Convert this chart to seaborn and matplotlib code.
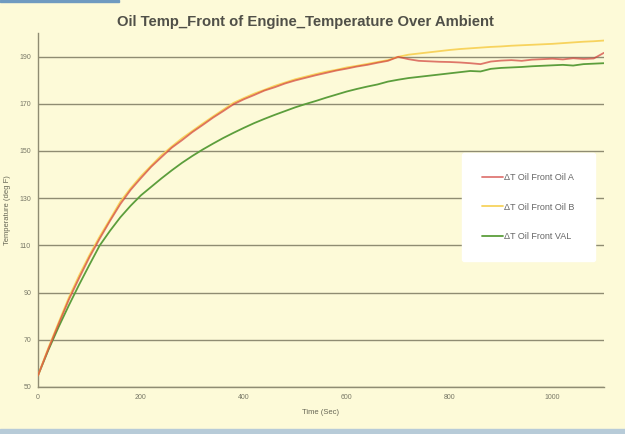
import numpy as np
import pandas as pd
import matplotlib
matplotlib.use("Agg")
import matplotlib.pyplot as plt
import seaborn as sns

time_sec = list(range(0, 1101, 20))

oil_a = [54.9, 66.0, 76.6, 87.0, 96.2, 105.0, 112.9, 120.4, 127.5, 133.5,
         138.5, 143.3, 147.4, 151.4, 154.6, 158.0, 161.0, 164.1, 166.9, 169.8,
         171.9, 173.7, 175.6, 177.0, 178.6, 179.9, 181.0, 182.1, 183.1, 184.1,
         184.9, 185.8, 186.5, 187.4, 188.2, 189.9,
         188.9, 188.2, 188.0, 187.8, 187.7, 187.5, 187.2, 186.8, 187.9, 188.3,
         188.5, 188.2, 188.7, 188.9, 189.1, 188.8, 189.3, 189.0, 189.2, 191.6]

oil_b = [54.9, 66.5, 77.3, 87.9, 97.3, 105.9, 113.8, 121.1, 128.5, 134.2,
         139.3, 143.8, 148.2, 151.9, 155.4, 158.5, 161.6, 164.6, 167.5, 170.4,
         172.4, 174.3, 175.9, 177.6, 179.0, 180.4, 181.5, 182.6, 183.6, 184.4,
         185.4, 186.1, 186.9, 187.7, 188.5, 189.9,
         190.8, 191.3, 191.8, 192.3, 192.8, 193.2, 193.5, 193.8, 194.1, 194.3,
         194.6, 194.8, 195.0, 195.2, 195.4, 195.7, 196.0, 196.3, 196.5, 196.8]

val = [54.9, 65.6, 75.4, 84.6, 93.4, 101.8, 110.0, 116.2, 121.9, 126.8,
       131.2, 134.8, 138.4, 141.8, 145.0, 147.9, 150.6, 153.1, 155.5, 157.7,
       159.8, 161.8, 163.6, 165.3, 166.9, 168.5, 169.9, 171.2, 172.6, 173.9,
       175.2, 176.3, 177.3, 178.2, 179.4, 180.2,
       180.9, 181.4, 181.9, 182.4, 182.9, 183.4, 183.9, 183.7, 184.8, 185.2,
       185.4, 185.6, 185.9, 186.1, 186.3, 186.5, 186.2, 186.8, 187.0, 187.2]

series_names = ["ΔT Oil Front Oil A", "ΔT Oil Front Oil B", "ΔT Oil Front VAL"]
y_ticks = [50, 70, 90, 110, 130, 150, 170, 190]
x_ticks = [0, 200, 400, 600, 800, 1000]

df = pd.DataFrame({
    "Time": time_sec * 3,
    "Temp": oil_a + oil_b + val,
    "Series": [series_names[0]] * len(time_sec) + [series_names[1]] * len(time_sec)
              + [series_names[2]] * len(time_sec),
})

sns.set_theme(style="white")
plt.rcParams['font.family'] = ['Liberation Sans', 'DejaVu Sans']

bg = "#fdfad8"
fig = plt.figure(figsize=(6.25, 4.34), dpi=100, facecolor=bg)
ax = fig.add_axes([0.0608, 0.1083, 0.9056, 0.8157])
ax.set_facecolor(bg)

palette = {series_names[0]: "#d2403a", series_names[1]: "#f7d35e", series_names[2]: "#5c9e3c"}
order = [series_names[2], series_names[1], series_names[0]]
alphas = {series_names[0]: 0.7, series_names[1]: 1.0, series_names[2]: 1.0}
for name in order:
    sub = df[df["Series"] == name]
    sns.lineplot(data=sub, x="Time", y="Temp", color=palette[name], lw=1.3,
                 alpha=alphas[name], ax=ax, label=name, zorder=3)

ax.set_xlim(0, 1100)
ax.set_ylim(50, 200)
ax.set_yticks(y_ticks)
ax.set_xticks(x_ticks)
ax.yaxis.grid(True, color="#8f8c72", lw=1.0)
ax.xaxis.grid(False)
for s in ["top", "right"]:
    ax.spines[s].set_visible(False)
ax.spines["left"].set_color("#8f8c72")
ax.spines["bottom"].set_color("#8f8c72")
ax.spines["left"].set_linewidth(1.0)
ax.spines["bottom"].set_linewidth(1.0)
ax.tick_params(axis="both", labelsize=5, colors="#777766", length=3, direction="inout", width=0.7)

ax.set_xlabel("Time (Sec)", fontsize=5.5, color="#666655", labelpad=6)
ax.set_ylabel("Temperature (deg F)", fontsize=5.5, color="#666655", labelpad=6)

fig.suptitle("Oil Temp_Front of Engine_Temperature Over Ambient", x=0.488, y=0.965,
             fontsize=10.7, fontweight="bold", color="#505048")

handles, labels = ax.get_legend_handles_labels()
hmap = dict(zip(labels, handles))
leg = ax.legend([hmap[n] for n in series_names], series_names,
                loc="center left", bbox_to_anchor=(0.749, 0.508),
                fontsize=6.5, frameon=True, facecolor="white", edgecolor="white",
                framealpha=1.0, labelspacing=2.3, handlelength=2.3,
                handletextpad=0.2, borderpad=2.2, borderaxespad=0)
for t in leg.get_texts():
    t.set_color("#666666")

# screen-capture edges
fig.patches.append(plt.Rectangle((0, 0), 1, 0.012, transform=fig.transFigure,
                                 color="#b7cbd8", zorder=0))
fig.patches.append(plt.Rectangle((0, 0.995), 0.19, 0.005, transform=fig.transFigure,
                                 color="#6f9ac0", zorder=0))

fig.savefig("out.png", dpi=100, facecolor=bg)
